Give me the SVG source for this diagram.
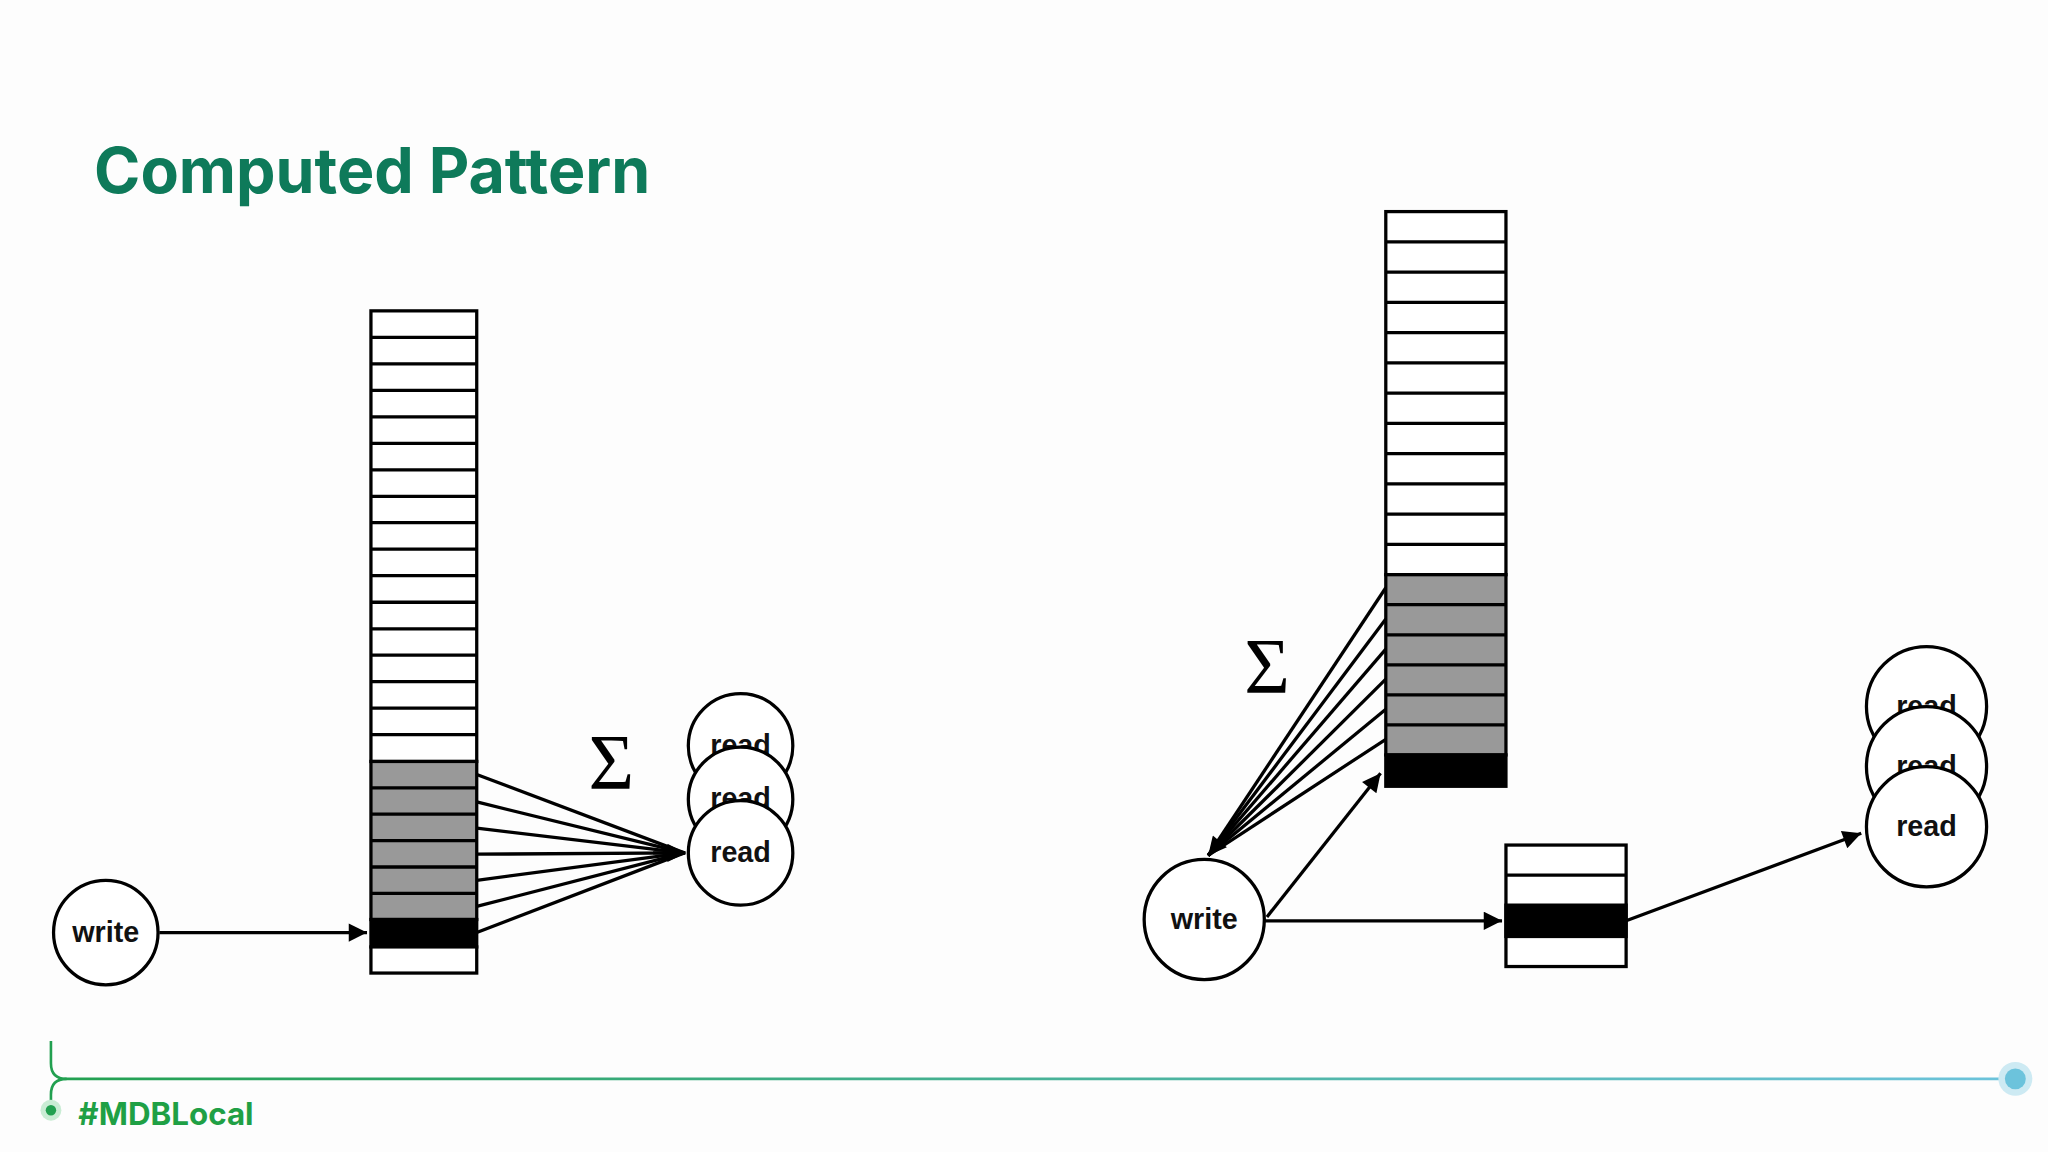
<svg xmlns="http://www.w3.org/2000/svg" width="2048" height="1152" viewBox="0 0 2048 1152">
<defs>
<style>
.c{fill:#fff;stroke:#000;stroke-width:2.5}
.l{stroke:#000;stroke-width:2.5;fill:none}
.t{font-family:"Liberation Sans",Arial,sans-serif;font-size:22px;font-weight:700;text-anchor:middle;fill:#111}
.s{font-family:"Liberation Serif",serif;font-size:60px;text-anchor:middle}
</style>
<marker id="b" viewBox="0 0 10 10" refX="10" refY="5" markerWidth="20" markerHeight="14" orient="auto" markerUnits="userSpaceOnUse"><path d="M0,0L10,5L0,10z"/></marker>
<linearGradient id="g" x1="0" x2="1"><stop offset="0" stop-color="#22a050"/><stop offset="1" stop-color="#6cc3dc"/></linearGradient>
</defs>
<rect width="2048" height="1152" fill="#fdfdfd"/>
<g transform="scale(1.30612)">
<text x="72" y="148" font-family="Inter,'Open Sans',sans-serif" font-weight="700" font-size="48" fill="#0e7a5a">Computed Pattern</text>
<g id="left-column" stroke="#000" stroke-width="2.5">
<rect x="284" y="238" width="81" height="345" fill="#fff"/>
<path d="M284 258.3H365M284 278.6H365M284 298.8H365M284 319.1H365M284 339.4H365M284 359.7H365M284 380H365M284 400.2H365M284 420.5H365M284 440.8H365M284 461.1H365M284 481.4H365M284 501.6H365M284 521.9H365M284 542.2H365M284 562.5H365"/>
<rect x="284" y="583" width="81" height="121" fill="#999"/>
<path d="M284 603.2H365M284 623.4H365M284 643.6H365M284 663.8H365M284 684H365"/>
<rect x="284" y="704" width="81" height="21" fill="#000"/>
<rect x="284" y="725" width="81" height="20" fill="#fff"/>
</g>
<g id="left-write"><circle class="c" cx="81" cy="714" r="40"/><text class="t" x="81" y="721">write</text></g>
<g id="left-reads">
<circle class="c" cx="567" cy="571" r="40"/><text class="t" x="567" y="578">read</text>
<circle class="c" cx="567" cy="612" r="40"/><text class="t" x="567" y="619">read</text>
<circle class="c" cx="567" cy="653" r="40"/><text class="t" x="567" y="660">read</text>
</g>
<text class="s" x="468" y="603">Σ</text>
<g id="right-column" stroke="#000" stroke-width="2.5">
<rect x="1061" y="162" width="92" height="278" fill="#fff"/>
<path d="M1061 185.2H1153M1061 208.3H1153M1061 231.5H1153M1061 254.7H1153M1061 277.8H1153M1061 301H1153M1061 324.2H1153M1061 347.3H1153M1061 370.5H1153M1061 393.7H1153M1061 416.8H1153"/>
<rect x="1061" y="440" width="92" height="138" fill="#999"/>
<path d="M1061 463H1153M1061 486H1153M1061 509H1153M1061 532H1153M1061 555H1153"/>
<rect x="1061" y="578" width="92" height="24" fill="#000"/>
</g>
<g id="small-box" stroke="#000" stroke-width="2.5">
<rect x="1153" y="647" width="92" height="93" fill="#fff"/>
<path d="M1153 670H1245"/>
<rect x="1153" y="693" width="92" height="24" fill="#000"/>
</g>
<g id="right-write"><circle class="c" cx="922" cy="704" r="46"/><text class="t" x="922" y="711" font-size="25">write</text></g>
<g id="right-reads">
<circle class="c" cx="1475" cy="541" r="46"/><text class="t" x="1475" y="548" font-size="25">read</text>
<circle class="c" cx="1475" cy="587" r="46"/><text class="t" x="1475" y="594" font-size="25">read</text>
<circle class="c" cx="1475" cy="633" r="46"/><text class="t" x="1475" y="640" font-size="25">read</text>
</g>
<text class="s" x="970" y="530" font-size="68">Σ</text>
<g id="connectors">
<line class="l" x1="122" y1="714" x2="281" y2="714" marker-end="url(#b)"/>
<g class="l">
<line x1="365" y1="593" x2="524" y2="653"/><line x1="365" y1="614" x2="524" y2="653"/><line x1="365" y1="634" x2="524" y2="653"/>
<line x1="365" y1="654" x2="524" y2="653"/><line x1="365" y1="674" x2="524" y2="653"/><line x1="365" y1="694" x2="524" y2="653"/>
<line x1="365" y1="714" x2="524" y2="653"/>
</g>
<line class="l" x1="500" y1="653" x2="525" y2="653" marker-end="url(#b)"/>
<g class="l">
<line x1="1061" y1="450" x2="925" y2="655"/><line x1="1061" y1="474" x2="925" y2="655"/><line x1="1061" y1="497" x2="925" y2="655"/>
<line x1="1061" y1="520" x2="925" y2="655"/><line x1="1061" y1="543" x2="925" y2="655"/><line x1="1061" y1="566" x2="925" y2="655"/>
</g>
<line class="l" x1="940" y1="637" x2="925" y2="655" marker-end="url(#b)"/>
<line class="l" x1="970" y1="702" x2="1057" y2="592" marker-end="url(#b)"/>
<line class="l" x1="968" y1="705" x2="1150" y2="705" stroke-width="3" marker-end="url(#b)"/>
<line class="l" x1="1245" y1="705" x2="1425" y2="638" marker-end="url(#b)"/>
</g>
<g id="footer">
<path d="M39 797V814Q39 826 51 826H1543" fill="none" stroke="url(#g)" stroke-width="2"/>
<path d="M51 826Q39 826 39 838V850" fill="none" stroke="#22a050" stroke-width="2"/>
<circle cx="39" cy="850" r="8" fill="#c9ecd4"/><circle cx="39" cy="850" r="4" fill="#22a050"/>
<circle cx="1543" cy="826" r="13" fill="#cdeaf3"/><circle cx="1543" cy="826" r="8" fill="#6cc3dc"/>
<text x="60" y="861" font-family="Inter,'Open Sans',sans-serif" font-weight="700" font-size="24" fill="#1fa045">#MDBLocal</text>
</g>
</g>
</svg>
